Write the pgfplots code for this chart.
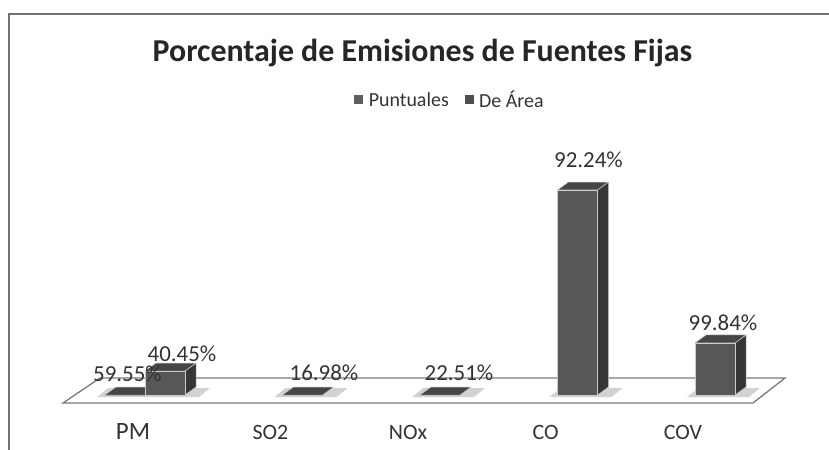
\documentclass[border=0pt]{standalone}
\usepackage{fontspec}
\setmainfont{Carlito}
\usepackage{pgfplots}
\usepackage{pgfplotstable}
\pgfplotsset{compat=1.18}
\definecolor{frontc}{HTML}{575757}
\definecolor{sidec}{HTML}{363636}
\definecolor{topc}{HTML}{464646}
\definecolor{puntc}{HTML}{5E5E5E}
\definecolor{shadowc}{HTML}{D2D2D2}
\definecolor{floorc}{HTML}{7A7A7A}
\definecolor{txtc}{HTML}{333333}

% De Area series: x = category index, y = bar height (CO = 100), label, label offsets (px)
\pgfplotstableread{
x y lbl sx sy
0 11.7 40.45\% 49 17.5
1 0 16.98\% 53.5 22.5
2 0 22.51\% 51 22.5
3 100 92.24\% 43 30.5
4 25.4 99.84\% 40 20.5
}\areatable
% Puntuales series
\pgfplotstableread{
x y lbl sx sy
0 0 59.55\% -5.5 21
}\punttable

\begin{document}
\begin{tikzpicture}
\useasboundingbox (0,0) rectangle (829bp,450bp);
\begin{axis}[
  at={(0,0)}, anchor=south west,
  scale only axis, width=829bp, height=450bp,
  xmin=-0.967273, xmax=5.061818,
  ymin=-26.829, ymax=192.683,
  clip=false,
  axis line style={draw=none},
  tick style={draw=none},
  ytick=\empty,
  xtick={0,1,2,3,4},
  xticklabels={{\fontsize{25}{25}\selectfont PM},SO2,NOx,CO,COV},
  xticklabel style={font=\fontsize{22}{22}\selectfont, text=txtc, anchor=center, yshift=18bp},
  no markers,
  title={Porcentaje de Emisiones de Fuentes Fijas},
  title style={at={(0.5097,0.8689)}, anchor=center, font=\fontsize{32}{32}\selectfont\bfseries, text=black!85},
  legend style={at={(0.5428,0.7778)}, anchor=center, draw=none, fill=none,
    font=\fontsize{20}{20}\selectfont, text=txtc, legend columns=2,
    /tikz/every even column/.append style={column sep=14bp},
    legend cell align=left},
]
% floor
\addplot[draw=floorc, line width=1.3bp, fill=white, forget plot] coordinates {
  (-0.50909,-3.902) (-0.24,8.293) (4.74182,8.293) (4.50909,-3.902)} -- cycle;
% shadows on the floor
\addplot[fill=shadowc, draw=none, forget plot] coordinates {(-0.2616,-1) (0.48,-1) (0.56,3.4) (-0.1816,3.4)} -- cycle;
\addplot[fill=shadowc, draw=none, forget plot] coordinates {(1.0293,-1) (1.48,-1) (1.56,3.4) (1.1093,3.4)} -- cycle;
\addplot[fill=shadowc, draw=none, forget plot] coordinates {(2.0293,-1) (2.48,-1) (2.56,3.4) (2.1093,3.4)} -- cycle;
\addplot[fill=shadowc, draw=none, forget plot] coordinates {(3.0293,-1) (3.48,-1) (3.56,3.4) (3.1093,3.4)} -- cycle;
\addplot[fill=shadowc, draw=none, forget plot] coordinates {(4.0293,-1) (4.48,-1) (4.56,3.4) (4.1093,3.4)} -- cycle;
% flat (zero height) bars: top faces
\addplot[fill=topc, draw=white!75!black, line width=0.5bp, forget plot] coordinates {(-0.2036,0) (0.0873,0) (0.1673,3.9) (-0.1236,3.9)} -- cycle;
\addplot[fill=topc, draw=white!75!black, line width=0.5bp, forget plot] coordinates {(1.0873,0) (1.3782,0) (1.4582,3.9) (1.1673,3.9)} -- cycle;
\addplot[fill=topc, draw=white!75!black, line width=0.5bp, forget plot] coordinates {(2.0873,0) (2.3782,0) (2.4582,3.9) (2.1673,3.9)} -- cycle;
% side and top faces of the raised bars
\addplot[fill=sidec, draw=white!80!black, line width=0.5bp, forget plot] coordinates {(0.3782,0) (0.3782,11.7) (0.4582,15.6) (0.4582,3.9)} -- cycle;
\addplot[fill=topc, draw=white!80!black, line width=0.5bp, forget plot] coordinates {(0.0873,11.7) (0.3782,11.7) (0.4582,15.6) (0.1673,15.6)} -- cycle;
\addplot[fill=sidec, draw=white!80!black, line width=0.5bp, forget plot] coordinates {(3.3782,0) (3.3782,100) (3.4582,103.9) (3.4582,3.9)} -- cycle;
\addplot[fill=topc, draw=white!80!black, line width=0.5bp, forget plot] coordinates {(3.0873,100) (3.3782,100) (3.4582,103.9) (3.1673,103.9)} -- cycle;
\addplot[fill=sidec, draw=white!80!black, line width=0.5bp, forget plot] coordinates {(4.3782,0) (4.3782,25.4) (4.4582,29.3) (4.4582,3.9)} -- cycle;
\addplot[fill=topc, draw=white!80!black, line width=0.5bp, forget plot] coordinates {(4.0873,25.4) (4.3782,25.4) (4.4582,29.3) (4.1673,29.3)} -- cycle;
% front faces (De Area)
\addplot[ybar, bar width=40bp, bar shift=32bp, fill=frontc, draw=white!80!black, line width=0.5bp, forget plot,
  point meta=explicit symbolic,
  visualization depends on={\thisrow{sx} \as \sx},
  visualization depends on={\thisrow{sy} \as \sy},
  nodes near coords,
  every node near coord/.append style={anchor=center, xshift=\sx bp, yshift=\sy bp, font=\fontsize{23}{23}\selectfont, text=txtc},
] table[x=x, y=y, meta=lbl] {\areatable};
% Puntuales labels
\addplot[ybar, bar width=40bp, bar shift=-8bp, fill=puntc, draw=none, forget plot,
  point meta=explicit symbolic,
  visualization depends on={\thisrow{sx} \as \sx},
  visualization depends on={\thisrow{sy} \as \sy},
  nodes near coords,
  every node near coord/.append style={anchor=center, xshift=\sx bp, yshift=\sy bp, font=\fontsize{23}{23}\selectfont, text=txtc},
] table[x=x, y=y, meta=lbl] {\punttable};
\addlegendimage{legend image code/.code={\fill[puntc] (0bp,-3.5bp) rectangle (8bp,4.5bp); \path (12bp,0);}}
\addlegendentry{Puntuales}
\addlegendimage{legend image code/.code={\fill[frontc!90!black] (0bp,-3.5bp) rectangle (8bp,4.5bp); \path (12bp,0);}}
\addlegendentry{De Área}
\end{axis}
\draw[black!55, line width=2.2bp] (9bp,-20bp) -- (9bp,436bp) -- (860bp,436bp);
\end{tikzpicture}
\end{document}
